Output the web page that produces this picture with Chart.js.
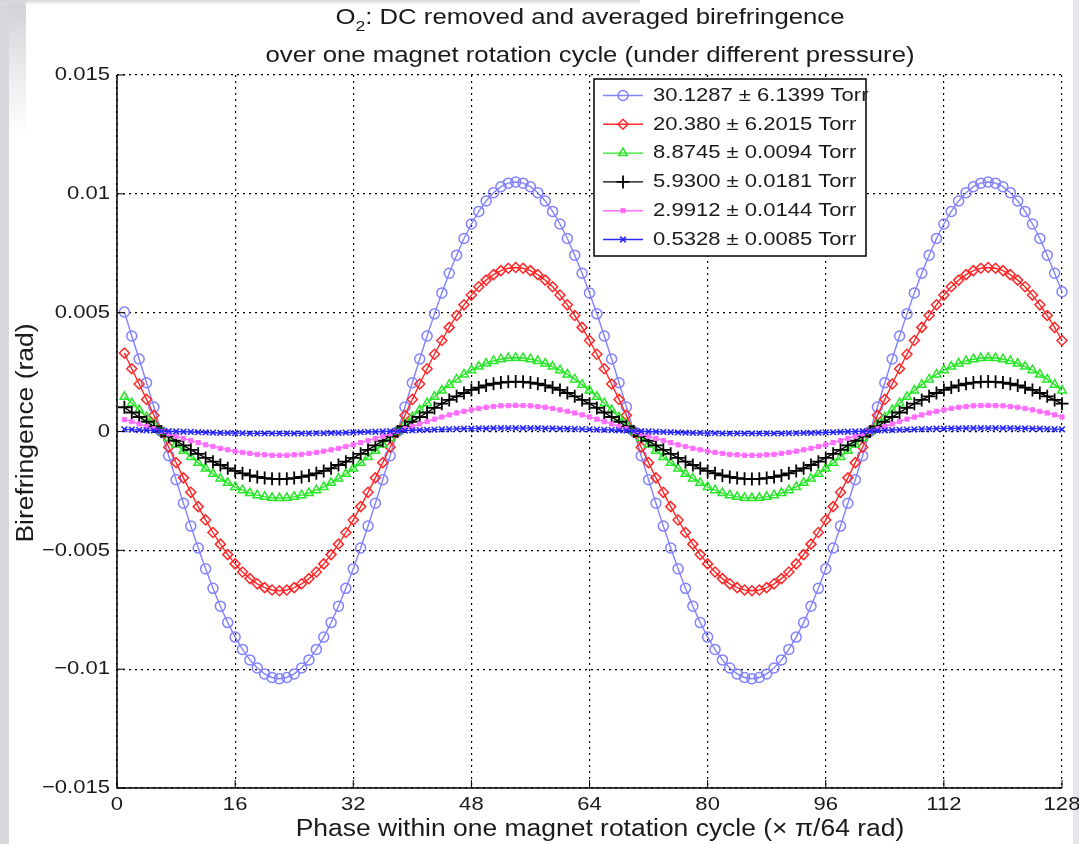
<!DOCTYPE html>
<html>
<head>
<meta charset="utf-8">
<script src="https://cdn.jsdelivr.net/npm/chart.js@4/dist/chart.umd.min.js"></script>
<style>
html, body { margin: 0; padding: 0; background: #fff; }
canvas { display: block; }
</style>
</head>
<body>
<canvas id="chart" width="1079" height="844"></canvas>
<script>
// phase steps 1..128 (x pi/64 rad)
const phase = [];
for (let i = 1; i <= 128; i++) phase.push(i);

const xTicks = [0, 16, 32, 48, 64, 80, 96, 112, 128];
const xTickLabels = ['0', '16', '32', '48', '64', '80', '96', '112', '128'];
const yTicks = [0.015, 0.01, 0.005, 0, -0.005, -0.01, -0.015];
const yTickLabels = ['0.015', '0.01', '0.005', '0', '\u22120.005', '\u22120.01', '\u22120.015'];

const seriesNames = [
  '30.1287 \u00b1 6.1399 Torr',
  '20.380 \u00b1 6.2015 Torr',
  '8.8745 \u00b1 0.0094 Torr',
  '5.9300 \u00b1 0.0181 Torr',
  '2.9912 \u00b1 0.0144 Torr',
  '0.5328 \u00b1 0.0085 Torr'
];

// birefringence (rad)
const p30 = [
  0.00503, 0.00402, 0.00305, 0.00205, 0.00103, 0,
  -0.00102, -0.00203, -0.00302, -0.00398, -0.00490, -0.00578, -0.00660, -0.00735, -0.00804, -0.00865, -0.00917, -0.00961, -0.00995, -0.01020, -0.01035, -0.0104,
  -0.01035, -0.01020, -0.00995, -0.00961, -0.00917, -0.00865, -0.00804, -0.00735, -0.00660, -0.00578, -0.00490, -0.00398, -0.00302, -0.00203, -0.00102, 0,
  0.00103, 0.00205, 0.00305, 0.00402, 0.00495, 0.00583, 0.00666, 0.00742, 0.00812, 0.00873, 0.00926, 0.00970, 0.01005, 0.01030, 0.01045, 0.0105,
  0.01045, 0.01030, 0.01005, 0.00970, 0.00926, 0.00873, 0.00812, 0.00742, 0.00666, 0.00583, 0.00495, 0.00402, 0.00305, 0.00205, 0.00103, 0,
  -0.00102, -0.00203, -0.00302, -0.00398, -0.00490, -0.00578, -0.00660, -0.00735, -0.00804, -0.00865, -0.00917, -0.00961, -0.00995, -0.01020, -0.01035, -0.0104,
  -0.01035, -0.01020, -0.00995, -0.00961, -0.00917, -0.00865, -0.00804, -0.00735, -0.00660, -0.00578, -0.00490, -0.00398, -0.00302, -0.00203, -0.00102, 0,
  0.00103, 0.00205, 0.00305, 0.00402, 0.00495, 0.00583, 0.00666, 0.00742, 0.00812, 0.00873, 0.00926, 0.00970, 0.01005, 0.01030, 0.01045, 0.0105,
  0.01045, 0.01030, 0.01005, 0.00970, 0.00926, 0.00873, 0.00812, 0.00742, 0.00666, 0.00588
];
const p20 = [
  0.00330, 0.00264, 0.00200, 0.00135, 0.00068, 0,
  -0.00066, -0.00131, -0.00195, -0.00256, -0.00316, -0.00372, -0.00425, -0.00474, -0.00518, -0.00557, -0.00591, -0.00619, -0.00641, -0.00657, -0.00667, -0.0067,
  -0.00667, -0.00657, -0.00641, -0.00619, -0.00591, -0.00557, -0.00518, -0.00474, -0.00425, -0.00372, -0.00316, -0.00256, -0.00195, -0.00131, -0.00066, 0,
  0.00068, 0.00135, 0.00200, 0.00264, 0.00325, 0.00383, 0.00438, 0.00488, 0.00533, 0.00574, 0.00609, 0.00637, 0.00660, 0.00677, 0.00687, 0.0069,
  0.00687, 0.00677, 0.00660, 0.00637, 0.00609, 0.00574, 0.00533, 0.00488, 0.00438, 0.00383, 0.00325, 0.00264, 0.00200, 0.00135, 0.00068, 0,
  -0.00066, -0.00131, -0.00195, -0.00256, -0.00316, -0.00372, -0.00425, -0.00474, -0.00518, -0.00557, -0.00591, -0.00619, -0.00641, -0.00657, -0.00667, -0.0067,
  -0.00667, -0.00657, -0.00641, -0.00619, -0.00591, -0.00557, -0.00518, -0.00474, -0.00425, -0.00372, -0.00316, -0.00256, -0.00195, -0.00131, -0.00066, 0,
  0.00068, 0.00135, 0.00200, 0.00264, 0.00325, 0.00383, 0.00438, 0.00488, 0.00533, 0.00574, 0.00609, 0.00637, 0.00660, 0.00677, 0.00687, 0.0069,
  0.00687, 0.00677, 0.00660, 0.00637, 0.00609, 0.00574, 0.00533, 0.00488, 0.00438, 0.00383
];
const p8 = [
  0.00146, 0.00119, 0.00090, 0.00060, 0.00030, 0,
  -0.00027, -0.00055, -0.00081, -0.00107, -0.00132, -0.00156, -0.00178, -0.00198, -0.00216, -0.00233, -0.00247, -0.00259, -0.00268, -0.00275, -0.00279, -0.0028,
  -0.00279, -0.00275, -0.00268, -0.00259, -0.00247, -0.00233, -0.00216, -0.00198, -0.00178, -0.00156, -0.00132, -0.00107, -0.00081, -0.00055, -0.00027, 0,
  0.00030, 0.00060, 0.00090, 0.00119, 0.00146, 0.00172, 0.00197, 0.00219, 0.00240, 0.00258, 0.00273, 0.00286, 0.00297, 0.00304, 0.00309, 0.0031,
  0.00309, 0.00304, 0.00297, 0.00286, 0.00273, 0.00258, 0.00240, 0.00219, 0.00197, 0.00172, 0.00146, 0.00119, 0.00090, 0.00060, 0.00030, 0,
  -0.00027, -0.00055, -0.00081, -0.00107, -0.00132, -0.00156, -0.00178, -0.00198, -0.00216, -0.00233, -0.00247, -0.00259, -0.00268, -0.00275, -0.00279, -0.0028,
  -0.00279, -0.00275, -0.00268, -0.00259, -0.00247, -0.00233, -0.00216, -0.00198, -0.00178, -0.00156, -0.00132, -0.00107, -0.00081, -0.00055, -0.00027, 0,
  0.00030, 0.00060, 0.00090, 0.00119, 0.00146, 0.00172, 0.00197, 0.00219, 0.00240, 0.00258, 0.00273, 0.00286, 0.00297, 0.00304, 0.00309, 0.0031,
  0.00309, 0.00304, 0.00297, 0.00286, 0.00273, 0.00258, 0.00240, 0.00219, 0.00197, 0.00172
];
const p5 = [
  0.00102, 0.00080, 0.00061, 0.00041, 0.00021, 0,
  -0.00020, -0.00039, -0.00058, -0.00077, -0.00094, -0.00111, -0.00127, -0.00141, -0.00155, -0.00166, -0.00176, -0.00185, -0.00191, -0.00196, -0.00199, -0.0020,
  -0.00199, -0.00196, -0.00191, -0.00185, -0.00176, -0.00166, -0.00155, -0.00141, -0.00127, -0.00111, -0.00094, -0.00077, -0.00058, -0.00039, -0.00020, 0,
  0.00021, 0.00041, 0.00061, 0.00080, 0.00099, 0.00117, 0.00133, 0.00148, 0.00162, 0.00175, 0.00185, 0.00194, 0.00201, 0.00206, 0.00209, 0.0021,
  0.00209, 0.00206, 0.00201, 0.00194, 0.00185, 0.00175, 0.00162, 0.00148, 0.00133, 0.00117, 0.00099, 0.00080, 0.00061, 0.00041, 0.00021, 0,
  -0.00020, -0.00039, -0.00058, -0.00077, -0.00094, -0.00111, -0.00127, -0.00141, -0.00155, -0.00166, -0.00176, -0.00185, -0.00191, -0.00196, -0.00199, -0.0020,
  -0.00199, -0.00196, -0.00191, -0.00185, -0.00176, -0.00166, -0.00155, -0.00141, -0.00127, -0.00111, -0.00094, -0.00077, -0.00058, -0.00039, -0.00020, 0,
  0.00021, 0.00041, 0.00061, 0.00080, 0.00099, 0.00117, 0.00133, 0.00148, 0.00162, 0.00175, 0.00185, 0.00194, 0.00201, 0.00206, 0.00209, 0.0021,
  0.00209, 0.00206, 0.00201, 0.00194, 0.00185, 0.00175, 0.00162, 0.00148, 0.00133, 0.00117
];
const p3 = [
  0.00050, 0.00042, 0.00032, 0.00021, 0.00011, 0,
  -0.00010, -0.00020, -0.00029, -0.00038, -0.00047, -0.00056, -0.00063, -0.00071, -0.00077, -0.00083, -0.00088, -0.00092, -0.00096, -0.00098, -0.00100, -0.0010,
  -0.00100, -0.00098, -0.00096, -0.00092, -0.00088, -0.00083, -0.00077, -0.00071, -0.00063, -0.00056, -0.00047, -0.00038, -0.00029, -0.00020, -0.00010, 0,
  0.00011, 0.00021, 0.00032, 0.00042, 0.00052, 0.00061, 0.00070, 0.00078, 0.00085, 0.00091, 0.00097, 0.00102, 0.00105, 0.00108, 0.00109, 0.0011,
  0.00109, 0.00108, 0.00105, 0.00102, 0.00097, 0.00091, 0.00085, 0.00078, 0.00070, 0.00061, 0.00052, 0.00042, 0.00032, 0.00021, 0.00011, 0,
  -0.00010, -0.00020, -0.00029, -0.00038, -0.00047, -0.00056, -0.00063, -0.00071, -0.00077, -0.00083, -0.00088, -0.00092, -0.00096, -0.00098, -0.00100, -0.0010,
  -0.00100, -0.00098, -0.00096, -0.00092, -0.00088, -0.00083, -0.00077, -0.00071, -0.00063, -0.00056, -0.00047, -0.00038, -0.00029, -0.00020, -0.00010, 0,
  0.00011, 0.00021, 0.00032, 0.00042, 0.00052, 0.00061, 0.00070, 0.00078, 0.00085, 0.00091, 0.00097, 0.00102, 0.00105, 0.00108, 0.00109, 0.0011,
  0.00109, 0.00108, 0.00105, 0.00102, 0.00097, 0.00091, 0.00085, 0.00078, 0.00070, 0.00061
];
const p05 = [
  0.00009, 0.00008, 0.00006, 0.00005, 0.00004, 0.00002,
  0.00001, 0, -0.00001, -0.00002, -0.00003, -0.00004, -0.00005, -0.00006, -0.00006, -0.00007, -0.00007, -0.00008, -0.00008, -0.00008, -0.00008, -0.00008,
  -0.00008, -0.00008, -0.00008, -0.00008, -0.00007, -0.00007, -0.00006, -0.00006, -0.00005, -0.00004, -0.00003, -0.00002, -0.00001, 0, 0.00001, 0.00002,
  0.00004, 0.00005, 0.00006, 0.00007, 0.00008, 0.00009, 0.00010, 0.00011, 0.00012, 0.00012, 0.00013, 0.00013, 0.00014, 0.00014, 0.00014, 0.00014,
  0.00014, 0.00014, 0.00014, 0.00013, 0.00013, 0.00012, 0.00012, 0.00011, 0.00010, 0.00009, 0.00008, 0.00007, 0.00006, 0.00005, 0.00004, 0.00002,
  0.00001, 0, -0.00001, -0.00002, -0.00003, -0.00004, -0.00005, -0.00006, -0.00006, -0.00007, -0.00007, -0.00008, -0.00008, -0.00008, -0.00008, -0.00008,
  -0.00008, -0.00008, -0.00008, -0.00008, -0.00007, -0.00007, -0.00006, -0.00006, -0.00005, -0.00004, -0.00003, -0.00002, -0.00001, 0, 0.00001, 0.00002,
  0.00004, 0.00005, 0.00006, 0.00007, 0.00008, 0.00009, 0.00010, 0.00011, 0.00012, 0.00012, 0.00013, 0.00013, 0.00014, 0.00014, 0.00014, 0.00014,
  0.00014, 0.00014, 0.00014, 0.00013, 0.00013, 0.00012, 0.00012, 0.00011, 0.00010, 0.00009
];

const W = 1079, H = 844;
const FONT = '"Liberation Sans", Arial, Helvetica, sans-serif';
const TEXT = '#1a1a1a';

// text slightly wider than the font, like the scanned figure
function stretchText(ctx, txt, x, y, size, align, sx) {
  ctx.save();
  ctx.font = size + 'px ' + FONT;
  ctx.fillStyle = TEXT;
  ctx.textAlign = align;
  ctx.textBaseline = 'middle';
  ctx.translate(x, y);
  ctx.scale(sx, 1);
  ctx.fillText(txt, 0, 0);
  ctx.restore();
}

function marker(ctx, ds, x, y) {
  ctx.save();
  ctx.strokeStyle = ds.pointBorderColor;
  ctx.fillStyle = ds.pointBackgroundColor;
  ctx.lineWidth = ds.pointBorderWidth;
  if (Chart.helpers && Chart.helpers.drawPoint) {
    Chart.helpers.drawPoint(ctx, {
      pointStyle: ds.pointStyle, radius: ds.pointRadius,
      borderWidth: ds.pointBorderWidth, rotation: 0
    }, x, y);
  } else {
    ctx.beginPath();
    ctx.arc(x, y, ds.pointRadius, 0, Math.PI * 2);
    ctx.fill();
    ctx.stroke();
  }
  ctx.restore();
}

const figurePlugin = {
  id: 'figure',
  beforeDraw(chart) {
    const ctx = chart.ctx;
    ctx.save();
    ctx.fillStyle = '#fff';
    ctx.fillRect(0, 0, W, H);
    // grey page borders of the scan
    let g = ctx.createLinearGradient(0, 0, 0, 140);
    g.addColorStop(0, '#d0d0d4');
    g.addColorStop(1, 'rgba(220,220,224,0)');
    ctx.fillStyle = g;
    ctx.fillRect(0, 0, 26, 140);
    ctx.fillStyle = '#d8d8dc';
    ctx.fillRect(0, 0, 9, H);
    g = ctx.createLinearGradient(0, 0, 0, 6);
    g.addColorStop(0, '#d4d4d8');
    g.addColorStop(1, 'rgba(230,230,234,0)');
    ctx.fillStyle = g;
    ctx.fillRect(0, 0, 640, 6);
    ctx.fillStyle = '#e6e6ea';
    ctx.fillRect(1073, 0, 6, H);
    ctx.restore();
  },
  afterDraw(chart) {
    const ctx = chart.ctx;
    const xs = chart.scales.x, ys = chart.scales.y;
    const a = chart.chartArea;
    ctx.save();
    ctx.setLineDash([]);
    ctx.strokeStyle = '#000';

    // axis lines (box off)
    ctx.lineWidth = 1.5;
    ctx.beginPath();
    ctx.moveTo(a.left, a.top);
    ctx.lineTo(a.left, a.bottom);
    ctx.lineTo(a.right, a.bottom);
    ctx.stroke();

    // inward ticks
    ctx.lineWidth = 1;
    ctx.beginPath();
    yTicks.forEach(v => {
      const py = ys.getPixelForValue(v);
      ctx.moveTo(a.left, py);
      ctx.lineTo(a.left + 8, py);
    });
    xTicks.forEach(v => {
      const px = xs.getPixelForValue(v);
      ctx.moveTo(px, a.bottom);
      ctx.lineTo(px, a.bottom - 8);
    });
    ctx.stroke();

    // tick labels
    yTicks.forEach((v, i) => {
      stretchText(ctx, yTickLabels[i], a.left - 7, ys.getPixelForValue(v), 19, 'right', 1.16);
    });
    xTicks.forEach((v, i) => {
      stretchText(ctx, xTickLabels[i], xs.getPixelForValue(v), a.bottom + 17, 19, 'center', 1.16);
    });

    // axis titles
    stretchText(ctx, 'Phase within one magnet rotation cycle (\u00d7 \u03c0/64 rad)', 600, 830, 23, 'center', 1.15);
    ctx.save();
    ctx.translate(27, 433);
    ctx.rotate(-Math.PI / 2);
    stretchText(ctx, 'Birefringence (rad)', 0, 0, 23, 'center', 1.15);
    ctx.restore();

    // title, two lines, O with subscript 2
    const sx = 1.17;
    ctx.font = '22px ' + FONT;
    const wO = ctx.measureText('O').width * sx;
    const rest = ': DC removed and averaged birefringence';
    const wRest = ctx.measureText(rest).width * sx;
    ctx.font = '15px ' + FONT;
    const w2 = ctx.measureText('2').width * sx;
    const x0 = 590 - (wO + w2 + wRest) / 2;
    stretchText(ctx, 'O', x0, 18, 22, 'left', sx);
    stretchText(ctx, '2', x0 + wO, 27, 15, 'left', sx);
    stretchText(ctx, rest, x0 + wO + w2, 18, 22, 'left', sx);
    stretchText(ctx, 'over one magnet rotation cycle (under different pressure)', 590, 56, 22, 'center', sx);

    // legend box
    const lg = { left: 594, top: 79, right: 866, bottom: 256 };
    ctx.fillStyle = '#fff';
    ctx.fillRect(lg.left, lg.top, lg.right - lg.left, lg.bottom - lg.top);
    ctx.lineWidth = 1.5;
    ctx.strokeStyle = '#000';
    ctx.strokeRect(lg.left, lg.top, lg.right - lg.left, lg.bottom - lg.top);
    chart.data.datasets.forEach((ds, i) => {
      const y = 95.5 + i * 28.8;
      ctx.strokeStyle = ds.borderColor;
      ctx.lineWidth = ds.borderWidth;
      ctx.beginPath();
      ctx.moveTo(603, y);
      ctx.lineTo(643, y);
      ctx.stroke();
      marker(ctx, ds, 623, y);
      stretchText(ctx, ds.label, 653, y, 19, 'left', 1.16);
    });
    ctx.restore();
  }
};

function makeSet(i, data, color, style, radius, fill, width) {
  return {
    label: seriesNames[i],
    data: data,
    borderColor: color,
    borderWidth: 1.4,
    pointStyle: style,
    pointRadius: radius,
    pointHoverRadius: radius,
    pointBorderColor: color,
    pointBackgroundColor: fill,
    pointBorderWidth: width,
    tension: 0,
    clip: false,
    order: 5 - i
  };
}

const datasets = [
  makeSet(0, p30, 'rgb(130,130,255)', 'circle', 5, 'rgba(0,0,0,0)', 1.5),
  makeSet(1, p20, 'rgb(255,40,40)', 'rectRot', 5, 'rgba(0,0,0,0)', 1.5),
  makeSet(2, p8, 'rgb(40,230,40)', 'triangle', 5, 'rgba(0,0,0,0)', 1.5),
  makeSet(3, p5, 'rgb(0,0,0)', 'cross', 6.5, 'rgba(0,0,0,0)', 1.8),
  makeSet(4, p3, 'rgb(255,110,255)', 'rect', 3, 'rgb(255,110,255)', 1),
  makeSet(5, p05, 'rgb(40,40,255)', 'crossRot', 4, 'rgba(0,0,0,0)', 1.6)
];

new Chart(document.getElementById('chart'), {
  type: 'line',
  data: { labels: phase, datasets: datasets },
  options: {
    responsive: false,
    animation: false,
    devicePixelRatio: 1,
    layout: { padding: { top: 75, right: 17, left: 0, bottom: 0 } },
    plugins: { legend: { display: false }, tooltip: { enabled: false }, title: { display: false } },
    scales: {
      x: {
        type: 'linear',
        min: 0,
        max: 128,
        afterFit(s) { s.height = 56; },
        ticks: { stepSize: 16, display: false },
        grid: { color: '#000', lineWidth: 1.2, drawTicks: false },
        border: { display: false, dash: [2, 4] }
      },
      y: {
        type: 'linear',
        min: -0.015,
        max: 0.015,
        afterFit(s) { s.width = 117; },
        ticks: { stepSize: 0.005, display: false },
        grid: { color: '#000', lineWidth: 1.2, drawTicks: false },
        border: { display: false, dash: [2, 4] }
      }
    }
  },
  plugins: [figurePlugin]
});
</script>
</body>
</html>
